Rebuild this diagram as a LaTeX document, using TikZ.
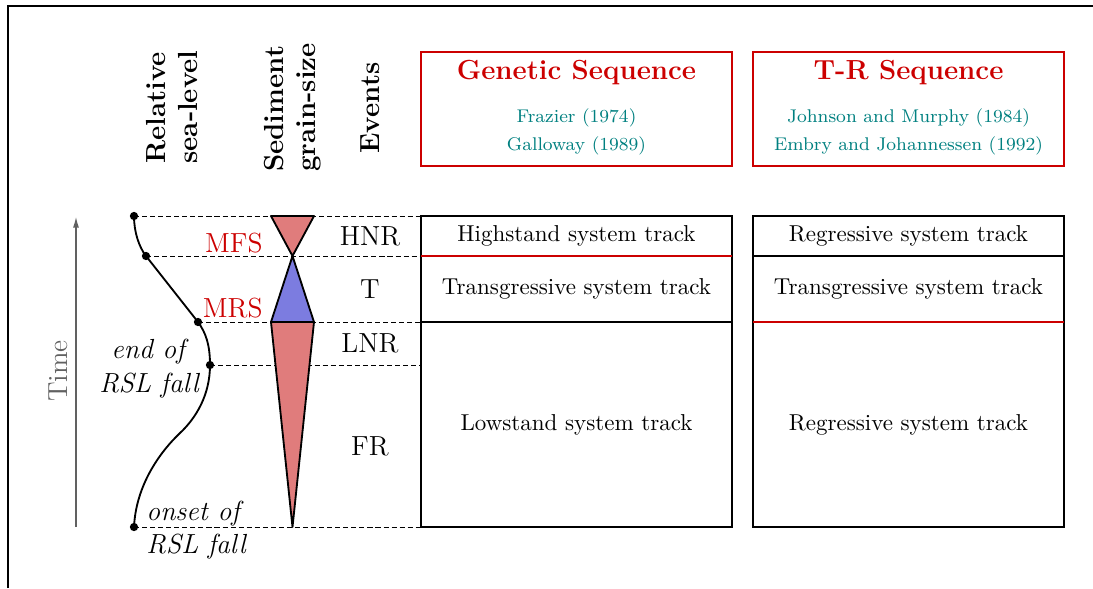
\documentclass[tikz,border=0pt]{standalone}
\usetikzlibrary{arrows.meta}
\definecolor{salmon}{RGB}{224,124,124}
\definecolor{lavender}{RGB}{124,124,224}
\definecolor{hred}{RGB}{204,0,0}
\definecolor{cteal}{RGB}{0,128,128}
\begin{document}
\begin{tikzpicture}[x=0.4348pt,y=-0.4348pt,
  dot/.style={circle,fill=black,inner sep=0pt,minimum size=3.6pt},
  guide/.style={thin,dash pattern=on 2.2pt off 1.3pt},
  lab/.style={font=\large,inner sep=0pt},
  redlab/.style={font=\large,inner sep=0pt,text=hred},
  itlab/.style={font=\large\itshape,inner sep=0pt},
  hdr/.style={font=\large\bfseries,rotate=90,align=left,inner sep=0pt},
  ttl/.style={font=\large\bfseries,text=hred,inner sep=0pt},
  cite/.style={font=\footnotesize,text=cteal,inner sep=0pt},
  cell/.style={inner sep=0pt},
  tri/.style={draw=black,thick,line join=round},
  redbox/.style={draw=hred,thick},
  tab/.style={draw=black,thick}]
\useasboundingbox (0,0) rectangle (1093,588);
% frame
\draw[thick] (8,588) -- (8,6) -- (1093,6);

% headers
\node[hdr] (hrsl) at (172,107) {Relative\\sea-level};
\node[hdr] (hsed) at (293,107.5) {Sediment\\grain-size};
\node[hdr] (hev) at (370,108) {Events};

% red title boxes
\draw[redbox] (421,52) rectangle (732,166);
\draw[redbox] (753,52) rectangle (1064,166);
\node[ttl] (tg) at (576.5,73) {Genetic Sequence};
\node[cite] (c1) at (576.5,118) {Frazier (1974)};
\node[cite] (c2) at (576.5,146) {Galloway (1989)};
\node[ttl] (ttr) at (908.5,73) {T-R Sequence};
\node[cite] (c3) at (908.5,118) {Johnson and Murphy (1984)};
\node[cite] (c4) at (908.5,146) {Embry and Johannessen (1992)};

% time arrow
\coordinate (t0) at (76,527);
\coordinate (t1) at (76,216);
\draw[thick,black!62,-{Latex[length=5pt,width=2.6pt]}] (t0) -- (t1);
\node[font=\large,text=black!62,rotate=90,inner sep=0pt] (time) at (58,371) {Time};

% RSL points
\coordinate (p1) at (134,216);
\coordinate (p2) at (146,256);
\coordinate (p3) at (198,322);
\coordinate (p4) at (210,365);
\coordinate (p5) at (134,527);
% table left-edge points
\coordinate (g1) at (421,216);
\coordinate (g2) at (421,256);
\coordinate (g3) at (421,322);
\coordinate (g4) at (421,365);
\coordinate (g5) at (421,527);

% guide lines
\draw[guide] (p1) -- (g1);
\draw[guide] (p2) -- (g2);
\draw[guide] (p3) -- (g3);
\draw[guide] (p4) -- (g4);
\draw[guide] (p5) -- (g5);

% RSL curve
\draw[thick] (p5) .. controls (136,485) and (160,452) .. (180,433)
  .. controls (196,418) and (210,395) .. (p4)
  .. controls (210,345) and (206,333) .. (p3) -- (p2)
  .. controls (139,247) and (134,232) .. (p1);
\node[dot] (d1) at (p1) {};
\node[dot] (d2) at (p2) {};
\node[dot] (d3) at (p3) {};
\node[dot] (d4) at (p4) {};
\node[dot] (d5) at (p5) {};

% grain-size triangles
\filldraw[tri,fill=salmon] (271,216) -- (314,216) -- (292.5,256) -- cycle;
\filldraw[tri,fill=lavender] (292.5,256) -- (314,322) -- (271,322) -- cycle;
\filldraw[tri,fill=salmon] (271,322) -- (314,322) -- (292.5,527) -- cycle;

% surfaces
\node[redlab,anchor=east] (mfs) at (263,243.5) {MFS};
\node[redlab,anchor=east] (mrs) at (263,308.5) {MRS};

% events
\node[lab] (hnr) at (370,236.5) {HNR};
\node[lab] (ev-t) at (370,289.5) {T};
\node[lab] (lnr) at (370,343.5) {LNR};
\node[lab] (fr) at (370,446.5) {FR};

% italic labels
\node[itlab,anchor=base] (e1) at (148,358) {end of};
\node[itlab,anchor=base] (e2) at (149,392) {RSL fall};
\node[itlab,anchor=base west] (o1) at (146,520) {onset of};
\node[itlab,anchor=base west] (o2) at (146,553) {RSL fall};

% genetic sequence table
\draw[tab] (421,216) rectangle (732,527);
\draw[thick,hred] (421,256) -- (732,256);
\draw[thick] (421,322) -- (732,322);
\node[cell] (gh) at (576.5,236) {Highstand system track};
\node[cell] (gt) at (576.5,289) {Transgressive system track};
\node[cell] (gl) at (576.5,424.5) {Lowstand system track};

% T-R table
\draw[tab] (753,216) rectangle (1064,527);
\draw[thick] (753,256) -- (1064,256);
\draw[thick,hred] (753,322) -- (1064,322);
\node[cell] (rr) at (908.5,236) {Regressive system track};
\node[cell] (rt) at (908.5,289) {Transgressive system track};
\node[cell] (rl) at (908.5,424.5) {Regressive system track};
\end{tikzpicture}
\end{document}
